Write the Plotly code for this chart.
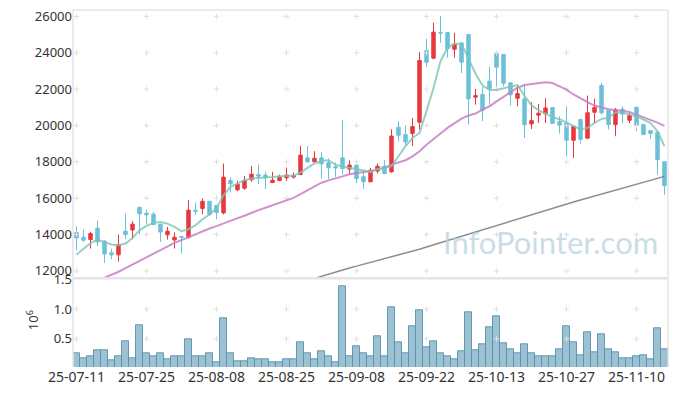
import plotly.graph_objects as go
from plotly.subplots import make_subplots

dates = ["25-07-11", "25-07-14", "25-07-15", "25-07-16", "25-07-17", "25-07-18",
         "25-07-21", "25-07-22", "25-07-23", "25-07-24", "25-07-25",
         "25-07-28", "25-07-29", "25-07-30", "25-07-31", "25-08-01",
         "25-08-04", "25-08-05", "25-08-06", "25-08-07", "25-08-08",
         "25-08-11", "25-08-12", "25-08-13", "25-08-14",
         "25-08-18", "25-08-19", "25-08-20", "25-08-21", "25-08-22",
         "25-08-25", "25-08-26", "25-08-27", "25-08-28", "25-08-29",
         "25-09-01", "25-09-02", "25-09-03", "25-09-04", "25-09-05",
         "25-09-08", "25-09-09", "25-09-10", "25-09-11", "25-09-12",
         "25-09-15", "25-09-16", "25-09-17", "25-09-18", "25-09-19",
         "25-09-22", "25-09-23", "25-09-24", "25-09-25", "25-09-26",
         "25-09-29", "25-09-30", "25-10-01", "25-10-02", "25-10-10",
         "25-10-13", "25-10-14", "25-10-15", "25-10-16", "25-10-17",
         "25-10-20", "25-10-21", "25-10-22", "25-10-23", "25-10-24",
         "25-10-27", "25-10-28", "25-10-29", "25-10-30", "25-10-31",
         "25-11-03", "25-11-04", "25-11-05", "25-11-06", "25-11-07",
         "25-11-10", "25-11-11", "25-11-12", "25-11-13", "25-11-14"]

open_ = [14110, 13850, 13720, 14350, 13630, 12990, 12880, 14180, 14250, 15500,
         15170, 15120, 14570, 13980, 13700, 13890, 13830, 15340, 15430, 15830,
         15600, 15190, 16970, 16460, 16550, 17010, 17300, 17270, 16860, 16970,
         17120, 17160, 17300, 18220, 18000, 18220, 17950, 17730, 18220, 17600,
         17820, 17180, 16900, 17490, 17760, 17450, 19910, 19500, 19560, 20180,
         24130, 23710, 25120, 25120, 24200, 24550, 25010, 21560, 21710, 22440,
         23960, 23910, 22350, 21500, 21470, 20090, 20570, 20640, 20990, 20220,
         20140, 19190, 20330, 19300, 20730, 22200, 20840, 20050, 20910, 20290,
         21010, 20050, 19720, 19630, 18010]
high = [14460, 14270, 14140, 14770, 13690, 13210, 14000, 15150, 14730, 15500,
        15380, 15250, 14570, 14420, 14110, 13920, 15890, 15760, 15980, 15830,
        15600, 17910, 17160, 16970, 17230, 17780, 17850, 17450, 17450, 17300,
        17690, 17410, 18880, 18870, 18590, 18530, 18190, 17950, 20300, 18090,
        17910, 17490, 17670, 17910, 18090, 19800, 20240, 20000, 20420, 24040,
        24770, 25660, 26020, 25120, 25100, 24550, 25010, 22020, 22130, 23230,
        23960, 23910, 22350, 22200, 22260, 21280, 21190, 21500, 20990, 20510,
        21060, 19960, 20330, 21650, 21470, 22350, 20840, 20970, 21060, 20700,
        21010, 20050, 19720, 19680, 18010]
low = [13130, 13590, 13230, 13350, 12440, 12640, 12510, 13740, 13740, 14000,
       14570, 14510, 13590, 13720, 13230, 12950, 13780, 15060, 15120, 15030,
       14830, 15100, 16310, 16390, 16460, 16900, 16770, 16500, 16850, 16940,
       16950, 17080, 17270, 17970, 17970, 17080, 17050, 17180, 17300, 17270,
       16830, 16500, 16900, 17360, 17320, 17400, 19130, 18860, 18860, 19780,
       23230, 23650, 24550, 23730, 23730, 22900, 20050, 21150, 20240, 21150,
       22020, 22160, 21100, 21060, 19320, 19810, 20140, 20140, 20110, 19560,
       18310, 18220, 19000, 19300, 20140, 20600, 19780, 19410, 20140, 20140,
       19680, 19500, 19260, 17300, 16190]
close = [13810, 13690, 14050, 13590, 12930, 12880, 13450, 14000, 14570, 15140,
         15080, 14550, 14140, 14180, 13850, 13850, 15340, 15280, 15830, 15100,
         15210, 17160, 16790, 16770, 16970, 17320, 17210, 17140, 16990, 17170,
         17270, 17250, 18370, 18000, 18200, 17890, 17670, 17670, 17630, 17820,
         17080, 16900, 17540, 17760, 17360, 19420, 19460, 19100, 19940, 23580,
         23490, 25140, 25090, 24220, 24480, 23490, 21470, 21650, 20840, 22040,
         23210, 22330, 21690, 21760, 20050, 20270, 20680, 20970, 20120, 20020,
         19190, 19960, 19240, 20700, 20990, 20700, 20050, 20880, 20640, 20550,
         20020, 19500, 19570, 18120, 16690]

ma5 = [12900, 13190, 13520, 13720, 13600, 13450, 13410, 13500, 13810, 14230,
       14480, 14640, 14690, 14600, 14420, 14180, 14290, 14510, 14840, 15100,
       15450, 16160, 16620, 16810, 16990, 17080, 17090, 17140, 17160, 17210,
       17230, 17230, 17410, 17670, 17910, 18050, 18090, 17850, 17730, 17670,
       17600, 17490, 17450, 17610, 17660, 17760, 18310, 18860, 19320, 19590,
       20790, 22070, 23540, 24280, 24500, 24500, 23680, 22850, 22210, 21950,
       21960, 22060, 22120, 22230, 21630, 21110, 20850, 20650, 20460, 20350,
       20170, 19960, 19780, 19870, 20140, 20360, 20420, 20730, 20690, 20600,
       20510, 20330, 20140, 19680, 18860]
ma20 = [11150, 11250, 11350, 11480, 11620, 11780, 11950, 12150, 12350, 12530,
        12730, 12950, 13130, 13350, 13540, 13690, 13850, 14050, 14180, 14330,
        14460, 14620, 14760, 14900, 15030, 15200, 15340, 15470, 15600, 15720,
        15850, 16020, 16220, 16420, 16650, 16850, 16980, 17070, 17200, 17320,
        17400, 17440, 17480, 17560, 17680, 17850, 17950, 18090, 18300, 18580,
        18940, 19230, 19560, 19870, 20140, 20380, 20550, 20660, 20870, 21060,
        21330, 21570, 21830, 22080, 22230, 22290, 22330, 22380, 22340, 22180,
        21980, 21710, 21480, 21290, 21100, 20990, 20900, 20860, 20800, 20740,
        20600, 20460, 20330, 20160, 19980]
ma120 = [None] * 33 + [
    11470, 11590, 11710, 11830, 11940, 12050, 12160, 12260, 12360, 12460,
    12560, 12660, 12760, 12860, 12960, 13070, 13190, 13310, 13430, 13550,
    13670, 13790, 13910, 14030, 14150, 14270, 14390, 14510, 14630, 14750,
    14870, 14990, 15110, 15230, 15350, 15460, 15570, 15680, 15790, 15900,
    16010, 16120, 16230, 16340, 16450, 16560, 16670, 16770, 16870, 16970,
    17070, 17200]

volume = [250000, 170000, 200000, 310000, 310000, 140000, 200000, 460000, 180000, 730000,
          250000, 200000, 260000, 150000, 210000, 200000, 500000, 210000, 200000, 250000,
          100000, 850000, 250000, 130000, 130000, 180000, 150000, 160000, 100000, 100000,
          150000, 150000, 450000, 250000, 150000, 300000, 200000, 100000, 1390000, 200000,
          380000, 250000, 200000, 550000, 210000, 1030000, 450000, 260000, 710000, 980000,
          360000, 460000, 250000, 200000, 160000, 300000, 950000, 310000, 410000, 700000,
          880000, 430000, 330000, 250000, 410000, 250000, 200000, 200000, 200000, 330000,
          710000, 450000, 230000, 610000, 280000, 580000, 330000, 280000, 180000, 180000,
          210000, 230000, 160000, 680000, 330000]

tick_labels = ["25-07-11", "25-07-25", "25-08-08", "25-08-25", "25-09-08",
               "25-09-22", "25-10-13", "25-10-27", "25-11-10"]
price_ticks = [12000, 14000, 16000, 18000, 20000, 22000, 24000, 26000]
price_tick_text = ["12000", "14000", "16000", "18000", "20000", "22000", "24000", "26000"]
vol_ticks = [500000, 1000000, 1500000]
vol_tick_text = ["0.5", "1.0", "1.5"]

UP = "#e8383d"
DOWN = "#6cc0d8"
FONT = "Noto Sans"

vol_frac = 0.2485

fig = make_subplots(rows=2, cols=1, shared_xaxes=True, vertical_spacing=0,
                    row_heights=[1 - vol_frac, vol_frac])

fig.add_trace(go.Candlestick(x=dates, open=open_, high=high, low=low, close=close,
                             increasing=dict(line=dict(color=UP, width=1), fillcolor=UP),
                             decreasing=dict(line=dict(color=DOWN, width=1), fillcolor=DOWN),
                             whiskerwidth=0, showlegend=False), row=1, col=1)

# grid crosses
gx = [t for t in tick_labels for _ in price_ticks]
gy = [p for _ in tick_labels for p in price_ticks]
fig.add_trace(go.Scatter(x=gx, y=gy, mode="markers", hoverinfo="skip",
                         marker=dict(symbol="cross-thin", size=4,
                                     line=dict(width=1, color="#e0e0e0")),
                         showlegend=False), row=1, col=1)
vx = [t for t in tick_labels for _ in vol_ticks[:2]]
vy = [v for _ in tick_labels for v in vol_ticks[:2]]
fig.add_trace(go.Scatter(x=vx, y=vy, mode="markers", hoverinfo="skip",
                         marker=dict(symbol="cross-thin", size=4,
                                     line=dict(width=1, color="#e0e0e0")),
                         showlegend=False), row=2, col=1)

fig.add_trace(go.Scatter(x=dates, y=ma120, mode="lines",
                         line=dict(color="rgba(120,120,120,0.85)", width=1.5),
                         showlegend=False), row=1, col=1)
fig.add_trace(go.Scatter(x=dates, y=ma20, mode="lines",
                         line=dict(color="rgba(196,128,196,0.85)", width=2),
                         showlegend=False), row=1, col=1)
fig.add_trace(go.Scatter(x=dates, y=ma5, mode="lines",
                         line=dict(color="rgba(122,196,184,0.8)", width=2),
                         showlegend=False), row=1, col=1)

fig.add_trace(go.Bar(x=dates, y=volume,
                     marker=dict(color="rgba(130,178,200,0.8)",
                                 line=dict(color="rgba(90,145,172,0.9)", width=1)),
                     showlegend=False), row=2, col=1)

axis_common = dict(showgrid=False, zeroline=False, ticks="", automargin=False)

fig.update_xaxes(type="category", categoryorder="array", categoryarray=dates,
                 range=[-0.5, 84.5], rangeslider_visible=False,
                 showline=False, tickvals=tick_labels, ticktext=tick_labels,
                 tickangle=0, tickfont=dict(family=FONT, size=14, color="#333333"),
                 **axis_common)
fig.update_xaxes(showticklabels=False, row=1, col=1)
fig.update_yaxes(range=[11590, 26360], tickvals=price_ticks, ticktext=price_tick_text,
                 showline=False, tickfont=dict(family=FONT, size=13, color="#333333"),
                 row=1, col=1, **axis_common)
fig.update_yaxes(range=[28000, 1517000], tickvals=vol_ticks, ticktext=vol_tick_text,
                 showline=False, tickfont=dict(family=FONT, size=13, color="#333333"),
                 row=2, col=1, **axis_common)

frame = "#e4e4e4"
shapes = [
    dict(type="line", xref="paper", yref="paper", x0=0, x1=0, y0=0, y1=1,
         line=dict(color=frame, width=1.5)),
    dict(type="line", xref="paper", yref="paper", x0=1, x1=1, y0=0, y1=1,
         line=dict(color=frame, width=1.5)),
    dict(type="line", xref="paper", yref="paper", x0=0, x1=1, y0=1, y1=1,
         line=dict(color=frame, width=1.5)),
    dict(type="line", xref="paper", yref="paper", x0=0, x1=1, y0=vol_frac, y1=vol_frac,
         line=dict(color=frame, width=2.5)),
]

annotations = [
    dict(text="InfoPointer.com", xref="paper", yref="paper", x=0.987, y=0.35,
         xanchor="right", yanchor="middle", showarrow=False,
         font=dict(family="Lato", size=31, color="rgba(184,210,224,0.75)")),
    dict(text="10<sup>6</sup>", xref="paper", yref="paper", x=-0.068, y=0.13,
         xanchor="center", yanchor="middle", showarrow=False, textangle=-90,
         font=dict(family=FONT, size=13, color="#333333")),
]

fig.update_layout(width=677, height=396, margin=dict(l=73, r=9, t=10, b=29, autoexpand=False),
                  paper_bgcolor="white", plot_bgcolor="white", bargap=0,
                  shapes=shapes, annotations=annotations, showlegend=False)

fig.write_html("out.html", config={"displayModeBar": False},
               post_script="document.body.style.margin='0px';document.body.style.overflow='hidden';")
